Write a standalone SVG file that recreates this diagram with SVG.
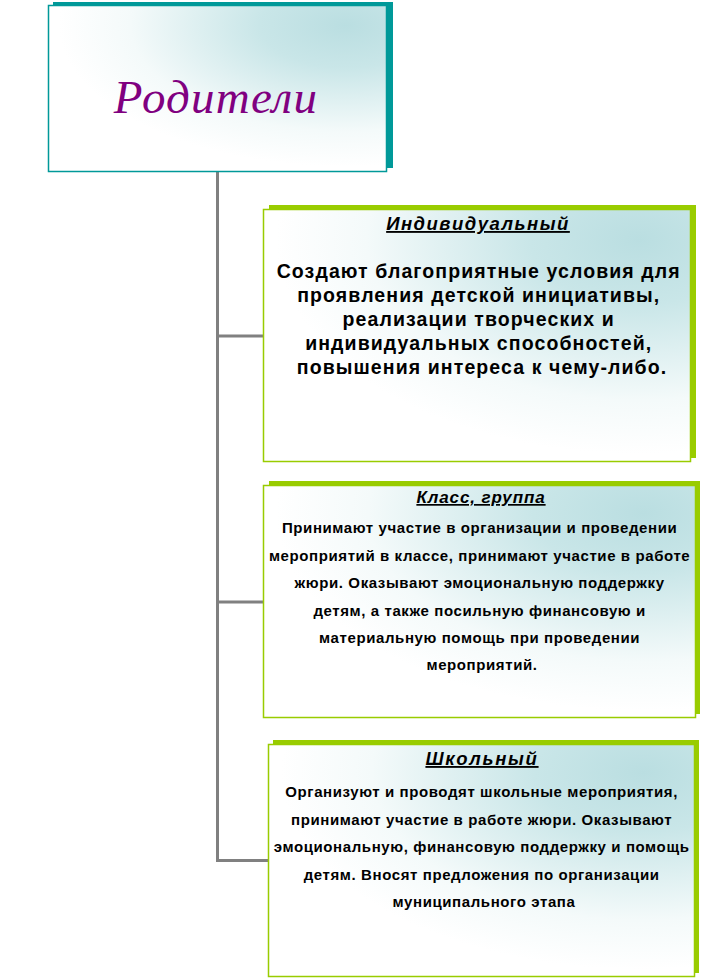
<svg xmlns="http://www.w3.org/2000/svg" width="703" height="979" viewBox="0 0 703 979">
<defs>
<radialGradient id="g" cx="0.88" cy="0.12" r="0.85">
<stop offset="0" stop-color="#BADEE1"/>
<stop offset="0.3" stop-color="#C9E6E8"/>
<stop offset="0.75" stop-color="#F4FAFA"/>
<stop offset="1" stop-color="#FFFFFF"/>
</radialGradient>
</defs>
<style>
.tb{font-family:"Liberation Sans",Arial,sans-serif;font-weight:bold;fill:#000;text-anchor:middle}
.ttl{font-style:italic;text-decoration:underline}
.sm{font-size:15px;letter-spacing:0.6px}
.con{stroke:#808080;stroke-width:3;fill:none}
.gs{fill:#99CC00}
.gf{fill:url(#g);stroke:#99CC00;stroke-width:1.5}
</style>
<rect width="703" height="979" fill="#FFFFFF"/>
<g id="connectors">
<path class="con" d="M217.5 172 V860.5 H268"/>
<path class="con" d="M217.5 336 H263"/>
<path class="con" d="M217.5 602 H263"/>
</g>
<g id="roditeli">
<rect x="53" y="2" width="340" height="166" fill="#009999"/>
<rect x="48.5" y="5.5" width="338" height="166" fill="url(#g)" stroke="#009999" stroke-width="1.5"/>
<text x="216" y="113" font-family="'Liberation Serif','Times New Roman',serif" font-style="italic" font-size="47" fill="#800080" text-anchor="middle" letter-spacing="1.2">Родители</text>
</g>
<g id="individual">
<rect class="gs" x="269" y="205" width="427" height="253"/>
<rect class="gf" x="263.5" y="209.5" width="427" height="252"/>
<text class="tb ttl" x="478" y="230" font-size="18.5" letter-spacing="1.5">Индивидуальный</text>
<text class="tb" font-size="19.5" letter-spacing="1.1">
<tspan x="482" y="278">Создают благоприятные условия для</tspan>
<tspan x="482" y="302">проявления детской инициативы,</tspan>
<tspan x="482" y="326">реализации творческих и</tspan>
<tspan x="482" y="350">индивидуальных способностей,</tspan>
<tspan x="482" y="374">повышения интереса к чему-либо.</tspan>
</text>
</g>
<g id="klass">
<rect class="gs" x="269" y="481" width="431" height="233"/>
<rect class="gf" x="263.5" y="485.5" width="432" height="232"/>
<text class="tb ttl" x="481" y="503" font-size="17" letter-spacing="0.9">Класс, группа</text>
<text class="tb sm">
<tspan x="482" y="533">Принимают участие в организации и проведении</tspan>
<tspan x="482" y="561">мероприятий в классе, принимают участие в работе</tspan>
<tspan x="482" y="588">жюри. Оказывают эмоциональную поддержку</tspan>
<tspan x="482" y="616">детям, а также посильную финансовую и</tspan>
<tspan x="482" y="643">материальную помощь при проведении</tspan>
<tspan x="482" y="670">мероприятий.</tspan>
</text>
</g>
<g id="shkolny">
<rect class="gs" x="273" y="740" width="426" height="233"/>
<rect class="gf" x="268.5" y="744.5" width="426" height="232"/>
<text class="tb ttl" x="482" y="765" font-size="18.5" letter-spacing="1.7">Школьный</text>
<text class="tb sm">
<tspan x="484" y="797">Организуют и проводят школьные мероприятия,</tspan>
<tspan x="484" y="825">принимают участие в работе жюри. Оказывают</tspan>
<tspan x="484" y="852">эмоциональную, финансовую поддержку и помощь</tspan>
<tspan x="484" y="880">детям. Вносят предложения по организации</tspan>
<tspan x="484" y="907">муниципального этапа</tspan>
</text>
</g>
</svg>
